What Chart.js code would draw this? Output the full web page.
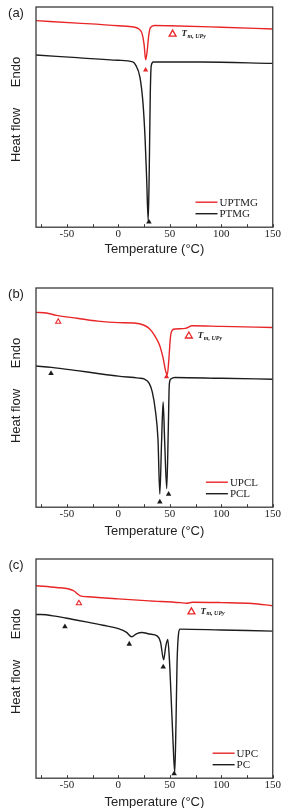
<!DOCTYPE html>
<html>
<head>
<meta charset="utf-8">
<script src="https://cdn.jsdelivr.net/npm/chart.js@4/dist/chart.umd.min.js"></script>
<style>
  html, body { margin: 0; padding: 0; background: #fff; overflow: hidden; }
  body { width: 281px; height: 808px; position: relative; }
  .panel { position: absolute; left: 0; width: 281px; }
</style>
</head>
<body>
<div class="panel" style="top:0px"><canvas id="chartA" width="281" height="257"></canvas></div>
<div class="panel" style="top:281px"><canvas id="chartB" width="281" height="258"></canvas></div>
<div class="panel" style="top:552px"><canvas id="chartC" width="281" height="258"></canvas></div>
<script>
// Panel (a): PTMG / UPTMG
const aRedT = [-80, -40, 0, 15, 20, 23, 25, 26.5, 28, 29.5, 31, 35, 50, 100, 150];
const aRedY = [93.8, 92.7, 91.5, 90.9, 90.0, 88, 83, 76, 80, 87, 90.5, 91.6, 91.5, 90.8, 90.0];
const aBlackT = [-80, -40, 0, 14, 17, 21, 24, 26, 27.5, 29, 30, 31, 32, 34, 80, 150];
const aBlackY = [78.2, 77.0, 75.8, 75.1, 73.5, 68, 56, 40, 22, 3, 25, 60, 73.5, 75, 75, 74.4];
const aTmUPy = [{ x: 52.7, y: 87.7 }];
const aRedMarks = [{ x: 26.5, y: 71.4 }];
const aRedOpenSmall = [];
const aBlackMarks = [{ x: 29.7, y: 2.4 }];

// Panel (b): PCL / UPCL
const bRedT = [-80, -70, -60, -40, -20, 0, 15, 25, 30, 35, 40, 43.5, 46, 47.5, 49, 50.5, 52, 55, 65, 72, 100, 150];
const bRedY = [88.9, 88.6, 87.5, 86.2, 84.9, 84.2, 84.0, 83.0, 81.5, 78.5, 74, 68, 62, 60.3, 67, 77, 80.5, 81.3, 81.6, 82.8, 82.5, 82.0];
const bBlackT = [-80, -65, -40, -20, 0, 20, 25, 30, 33, 36, 38.5, 40.3, 42, 43.5, 45, 47, 48.5, 49.5, 51, 55, 100, 150];
const bBlackY = [64.4, 63.8, 62.3, 61, 59.8, 58.9, 58.5, 56.5, 52.5, 44, 31, 6, 30, 48, 30, 8.5, 35, 56, 58.5, 59.2, 58.8, 58.4];
const bTmUPy = [{ x: 68.5, y: 78.1 }];
const bRedMarks = [{ x: 46.8, y: 59.5 }];
const bRedOpenSmall = [{ x: -58.4, y: 84.6 }];
const bBlackMarks = [{ x: -65.4, y: 61 }, { x: 40.3, y: 2.4 }, { x: 48.8, y: 5.9 }];

// Panel (c): PC / UPC
const cRedT = [-80, -60, -48, -43, -40, -37, -30, 0, 30, 60, 66, 72, 100, 130, 150];
const cRedY = [87.8, 87.0, 86.3, 85.4, 84.2, 83.2, 82.8, 81.8, 80.9, 80.1, 79.8, 80.3, 80.1, 79.7, 78.7];
const cBlackT = [-80, -75, -60, -45, -30, -15, 0, 8, 13, 18, 23, 30, 38, 41, 44, 46, 48, 49.5, 51, 53, 54.8, 56, 57, 58.5, 60, 100, 150];
const cBlackY = [74.7, 74.7, 73.8, 72.5, 71.2, 69.8, 68.2, 66.5, 64.5, 66.0, 66.5, 65.8, 64.8, 62, 54, 60, 63.3, 55, 40, 18, 2.5, 25, 52, 66, 68, 67.6, 67.1];
const cTmUPy = [{ x: 71, y: 75.9 }];
const cRedMarks = [];
const cRedOpenSmall = [{ x: -38.3, y: 79.8 }];
const cBlackMarks = [{ x: -51.9, y: 69.1 }, { x: 10.6, y: 61.2 }, { x: 43.6, y: 50.8 }, { x: 54.2, y: 2.1 }];

const RED = 'rgb(232, 38, 40)';
const BLACK = '#1c1c1c';
const SERIF = '"Liberation Serif", "Times New Roman", serif';
const SANS = '"Liberation Sans", Arial, sans-serif';

const toPoints = (xs, ys) => xs.map((x, i) => ({ x: x, y: ys[i] }));

// Marco, ticks hacia adentro, textos del eje y, leyenda y anotación T_m,UPy
const decorPlugin = {
    id: 'decor',
    afterDraw(chart, args, opts) {
        const { ctx, chartArea: a, scales } = chart;
        const sx = scales.x, sy = scales.y;
        ctx.save();

        // ticks
        ctx.strokeStyle = '#3a3a3a';
        ctx.lineWidth = 1;
        sx.ticks.forEach(t => {
            const px = Math.round(sx.getPixelForValue(t.value)) + 0.5;
            ctx.beginPath();
            ctx.moveTo(px, a.bottom);
            ctx.lineTo(px, a.bottom - 3);
            ctx.stroke();
        });

        // marco
        ctx.lineWidth = 1.3;
        ctx.strokeRect(a.left, a.top, a.right - a.left, a.bottom - a.top);

        // titulo eje y
        ctx.fillStyle = '#222';
        ctx.font = '13px ' + SANS;
        ctx.textAlign = 'center';
        ctx.textBaseline = 'middle';
        [['Endo', 65], ['Heat flow', 128]].forEach(([txt, dy]) => {
            ctx.save();
            ctx.translate(16, a.top + dy);
            ctx.rotate(-Math.PI / 2);
            ctx.fillText(txt, 0, 0);
            ctx.restore();
        });

        // etiqueta del panel
        ctx.fillText(opts.panel, 16, a.top + 6);

        // leyenda
        const lines = chart.data.datasets.filter(d => d.type === 'line');
        ctx.font = '11px ' + SERIF;
        const wMax = Math.max(...lines.map(d => ctx.measureText(d.label).width));
        const x0 = 259 - wMax - 25;
        lines.forEach((d, i) => {
            const y = a.bottom - 25 + i * 11.5;
            ctx.strokeStyle = d.borderColor;
            ctx.lineWidth = 1.4;
            ctx.beginPath();
            ctx.moveTo(x0, y);
            ctx.lineTo(x0 + 22, y);
            ctx.stroke();
            ctx.fillStyle = '#222';
            ctx.textAlign = 'left';
            ctx.fillText(d.label, x0 + 24, y + 0.5);
        });

        // T m,UPy
        opts.tm.forEach(p => {
            const px = sx.getPixelForValue(p.x) + 9;
            const py = sy.getPixelForValue(p.y);
            ctx.fillStyle = '#222';
            ctx.textAlign = 'left';
            ctx.textBaseline = 'middle';
            ctx.font = 'italic bold 9px ' + SERIF;
            ctx.fillText('T', px, py);
            const w = ctx.measureText('T').width;
            ctx.font = 'italic bold 6px ' + SERIF;
            ctx.fillText('m, UPy', px + w + 0.5, py + 2);
        });
        ctx.restore();
    }
};

function makeChart(id, panel, redLabel, blackLabel, redT, redY, blackT, blackY, tm, redMarks, redOpen, blackMarks) {
    const ctx = document.getElementById(id).getContext('2d');
    return new Chart(ctx, {
        type: 'line',
        data: {
            datasets: [
                {
                    type: 'line',
                    label: redLabel,
                    data: toPoints(redT, redY),
                    borderColor: RED,
                    borderWidth: 1.4,
                    pointRadius: 0,
                    cubicInterpolationMode: 'monotone',
                    fill: false
                },
                {
                    type: 'line',
                    label: blackLabel,
                    data: toPoints(blackT, blackY),
                    borderColor: BLACK,
                    borderWidth: 1.4,
                    pointRadius: 0,
                    cubicInterpolationMode: 'monotone',
                    fill: false
                },
                {
                    type: 'scatter',
                    data: tm,
                    pointStyle: 'triangle',
                    pointRadius: 4,
                    borderWidth: 1.3,
                    borderColor: RED,
                    backgroundColor: '#fff'
                },
                {
                    type: 'scatter',
                    data: redOpen,
                    pointStyle: 'triangle',
                    pointRadius: 3,
                    borderWidth: 1.1,
                    borderColor: RED,
                    backgroundColor: '#fff'
                },
                {
                    type: 'scatter',
                    data: redMarks,
                    pointStyle: 'triangle',
                    pointRadius: 3,
                    borderWidth: 0,
                    backgroundColor: RED
                },
                {
                    type: 'scatter',
                    data: blackMarks,
                    pointStyle: 'triangle',
                    pointRadius: 3.2,
                    borderWidth: 0,
                    backgroundColor: BLACK
                }
            ]
        },
        options: {
            responsive: false,
            animation: false,
            events: [],
            layout: { padding: { left: 36, right: 8, top: 7, bottom: 0 } },
            plugins: {
                legend: { display: false },
                tooltip: { enabled: false },
                decor: { panel: panel, tm: tm }
            },
            scales: {
                x: {
                    type: 'linear',
                    min: -80,
                    max: 150,
                    grid: { display: false, drawTicks: false },
                    border: { display: false },
                    ticks: {
                        stepSize: 25,
                        includeBounds: false,
                        autoSkip: false,
                        maxRotation: 0,
                        padding: 0,
                        color: '#222',
                        font: { family: SERIF, size: 11 },
                        callback: v => (v % 50 === 0 ? String(v) : '')
                    },
                    title: {
                        display: true,
                        text: 'Temperature (°C)',
                        color: '#222',
                        font: { family: SANS, size: 13 },
                        padding: { top: panel === '(a)' ? 1 : 3, bottom: 0 }
                    }
                },
                y: { display: false, min: 0, max: 100 }
            }
        },
        plugins: [decorPlugin]
    });
}

makeChart('chartA', '(a)', 'UPTMG', 'PTMG', aRedT, aRedY, aBlackT, aBlackY, aTmUPy, aRedMarks, aRedOpenSmall, aBlackMarks);
makeChart('chartB', '(b)', 'UPCL', 'PCL', bRedT, bRedY, bBlackT, bBlackY, bTmUPy, bRedMarks, bRedOpenSmall, bBlackMarks);
makeChart('chartC', '(c)', 'UPC', 'PC', cRedT, cRedY, cBlackT, cBlackY, cTmUPy, cRedMarks, cRedOpenSmall, cBlackMarks);
</script>
</body>
</html>
